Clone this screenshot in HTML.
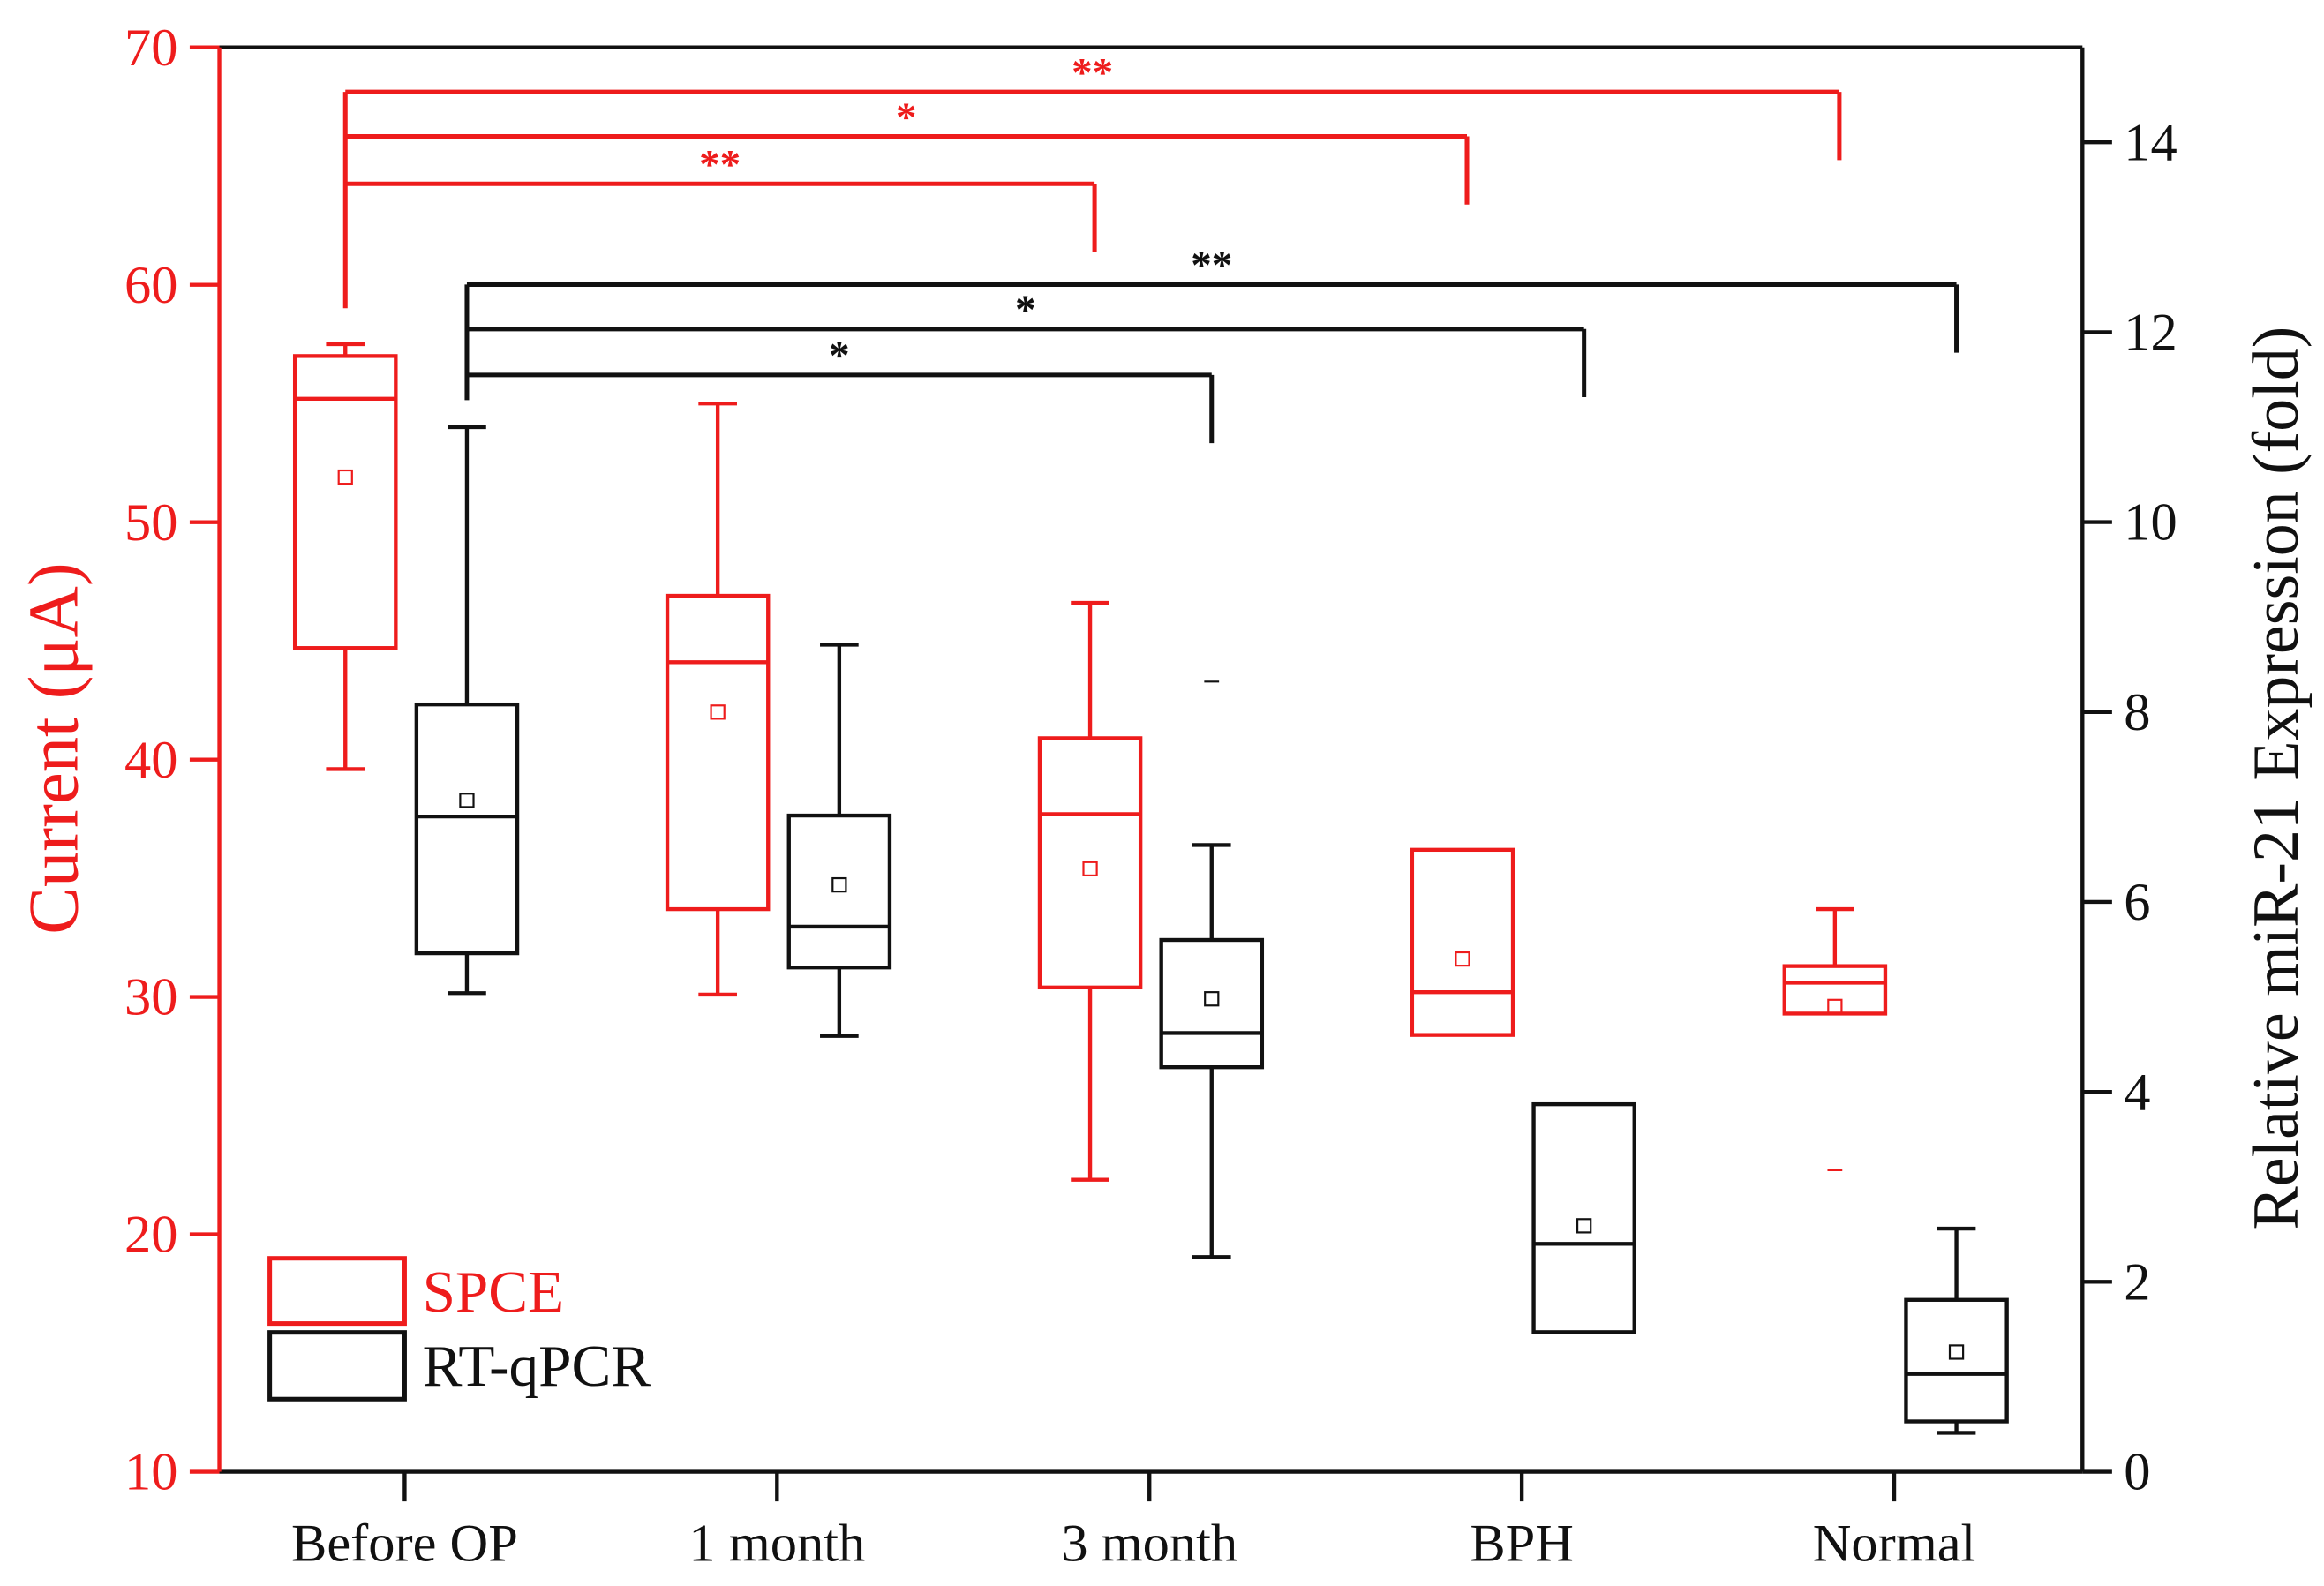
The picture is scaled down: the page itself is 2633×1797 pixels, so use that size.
<!DOCTYPE html>
<html><head><meta charset="utf-8"><style>
html,body{margin:0;padding:0;background:#fff;}
svg{display:block;}
text{font-family:"Liberation Serif",serif;}
</style></head><body>
<svg id="chart" width="2633" height="1797" viewBox="0 0 1568 1070.1" preserveAspectRatio="none" xmlns="http://www.w3.org/2000/svg">
<g id="g"></g>
</svg>
<script>
const categories=["Before OP","1 month","3 month","BPH","Normal"];
// SPCE (left axis, µA): [low, q1, median, q3, high]
const spceLow=[39.6,30.1,22.3,28.4,29.3];
const spceQ1=[44.7,33.7,30.4,28.4,29.3];
const spceMed=[55.2,44.1,37.7,30.2,30.6];
const spceQ3=[57.0,46.9,40.9,36.2,31.3];
const spceHigh=[57.5,55.0,46.6,36.2,33.7];
const spceMean=[51.9,42.0,35.4,31.6,29.6];
const spceOutlier=[null,null,null,null,22.7];
// RT-qPCR (right axis, fold)
const pcrLow=[5.04,4.59,2.26,1.47,0.41];
const pcrQ1=[5.46,5.31,4.26,1.47,0.53];
const pcrMed=[6.90,5.74,4.62,2.40,1.03];
const pcrQ3=[8.08,6.91,5.60,3.87,1.81];
const pcrHigh=[11.0,8.71,6.60,3.87,2.56];
const pcrMean=[7.07,6.18,4.98,2.59,1.26];
const pcrOutlier=[null,null,8.32,null,null];
const leftTicks=[10,20,30,40,50,60,70];
const rightTicks=[0,2,4,6,8,10,12,14];
// significance: target category index, level (left axis value for red / right for black), stars
const redSigTarget=[1,2,3];const redSigLevel=[64.2,66.2,68.1];const redSigStars=["**","*","**"];
const blkSigTarget=[1,2,3];const blkSigLevel=[11.4,11.9,12.4];const blkSigStars=["*","*","**"];
// actually targets: red brackets to 3 month, BPH, Normal
const redTargets=[2,3,4];const blkTargets=[2,3,4];

const L=148,R=1405,T=32,B=993;
const yL=v=>B-(v-10)*(B-T)/60;
const yR=v=>B-v*(B-96)/14;
const xC=i=>273+i*251.25;
const NS="http://www.w3.org/2000/svg";
const g=document.getElementById('g');
function el(tag,attrs,name,parent){const e=document.createElementNS(NS,tag);for(const k in attrs)e.setAttribute(k,attrs[k]);


(parent||g).appendChild(e);return e;}
function line(x1,y1,x2,y2,c,name,w){return el('line',{x1,y1,x2,y2,stroke:c,'stroke-width':w||2.6},name);}
function txt(x,y,s,attrs,name){const t=el('text',Object.assign({x,y},attrs),name);t.textContent=s;return t;}
const RED="#ee1c1c",BLK="#111";

// frame
line(L,T,R,T,BLK,'top-axis-line');
line(L,B,R,B,BLK,'x-axis-line');
line(R,T,R,B,BLK,'right-axis-line');
line(L,T,L,B,RED,'left-axis-line');
leftTicks.forEach(v=>{line(L-20,yL(v),L,yL(v),RED,'left-tick-'+v);
txt(L-28,yL(v)+12,String(v),{fill:RED,'font-size':36,'text-anchor':'end'},'left-tick-label-'+v);});
rightTicks.forEach(v=>{line(R,yR(v),R+20,yR(v),BLK,'right-tick-'+v);
txt(R+28,yR(v)+12,String(v),{fill:BLK,'font-size':36},'right-tick-label-'+v);});
categories.forEach((c,i)=>{line(xC(i),B,xC(i),B+20,BLK,'x-tick-'+i);
txt(xC(i),B+60,c,{fill:BLK,'font-size':36,'text-anchor':'middle'},'x-label-'+c.toLowerCase().replace(/ /g,'-'));});
txt(0,0,"Current (\u03BCA)",{fill:RED,'font-size':48,'text-anchor':'middle',transform:'translate(52,505) rotate(-90)'},'left-axis-title');
txt(0,0,"Relative miR-21 Expression (fold)",{fill:BLK,'font-size':44,'text-anchor':'middle',transform:'translate(1550,525) rotate(-90)'},'right-axis-title');

function box(i,off,low,q1,med,q3,high,mean,out,ys,col,name){
 const cx=xC(i)+off,hw=34,cw=13;
 if(high>q3){line(cx,ys(q3),cx,ys(high),col,name+'-upper-whisker');line(cx-cw,ys(high),cx+cw,ys(high),col,name+'-upper-cap');}
 if(low<q1){line(cx,ys(q1),cx,ys(low),col,name+'-lower-whisker');line(cx-cw,ys(low),cx+cw,ys(low),col,name+'-lower-cap');}
 el('rect',{x:cx-hw,y:ys(q3),width:2*hw,height:ys(q1)-ys(q3),fill:'none',stroke:col,'stroke-width':2.6},name+'-box');
 line(cx-hw,ys(med),cx+hw,ys(med),col,name+'-median');
 el('rect',{x:cx-4.5,y:ys(mean)-4.5,width:9,height:9,fill:'none',stroke:col,'stroke-width':1.3},name+'-mean');
 if(out!=null)line(cx-5,ys(out),cx+5,ys(out),col,name+'-outlier',1.3);
}
categories.forEach((c,i)=>{
 const n=c.toLowerCase().replace(/ /g,'-');
 box(i,-40,spceLow[i],spceQ1[i],spceMed[i],spceQ3[i],spceHigh[i],spceMean[i],spceOutlier[i],yL,RED,'spce-'+n);
 box(i,42,pcrLow[i],pcrQ1[i],pcrMed[i],pcrQ3[i],pcrHigh[i],pcrMean[i],pcrOutlier[i],yR,BLK,'rtqpcr-'+n);
});
// significance brackets (red)
const rTop=[124,92,62],rStar=["**","*","**"];
line(233,208,233,62,RED,'spce-sig-stem',3);
redTargets.forEach((t,k)=>{const x2=xC(t)-37,y=rTop[k];
 line(233,y,x2,y,RED,'spce-sig-bracket-'+k,3);line(x2,y,x2,y+46,RED,'spce-sig-drop-'+k,3);
 txt((233+x2)/2,y-4,rStar[k],{fill:RED,'font-size':28,'font-weight':'bold','text-anchor':'middle'},'spce-sig-stars-'+k);});
const bTop=[253,222,192],bStar=["*","*","**"];
line(315,270,315,192,BLK,'rtqpcr-sig-stem',3);
blkTargets.forEach((t,k)=>{const x2=xC(t)+42,y=bTop[k];
 line(315,y,x2,y,BLK,'rtqpcr-sig-bracket-'+k,3);line(x2,y,x2,y+46,BLK,'rtqpcr-sig-drop-'+k,3);
 txt((315+x2)/2,y-4,bStar[k],{fill:BLK,'font-size':28,'font-weight':'bold','text-anchor':'middle'},'rtqpcr-sig-stars-'+k);});
// legend
el('rect',{x:182,y:849,width:91,height:44,fill:'none',stroke:RED,'stroke-width':3},'legend-spce-swatch');
txt(285,885,"SPCE",{fill:RED,'font-size':40},'legend-spce-label');
el('rect',{x:182,y:899,width:91,height:45,fill:'none',stroke:BLK,'stroke-width':3},'legend-rtqpcr-swatch');
txt(285,935,"RT-qPCR",{fill:BLK,'font-size':40},'legend-rtqpcr-label');
</script>
</body></html>
